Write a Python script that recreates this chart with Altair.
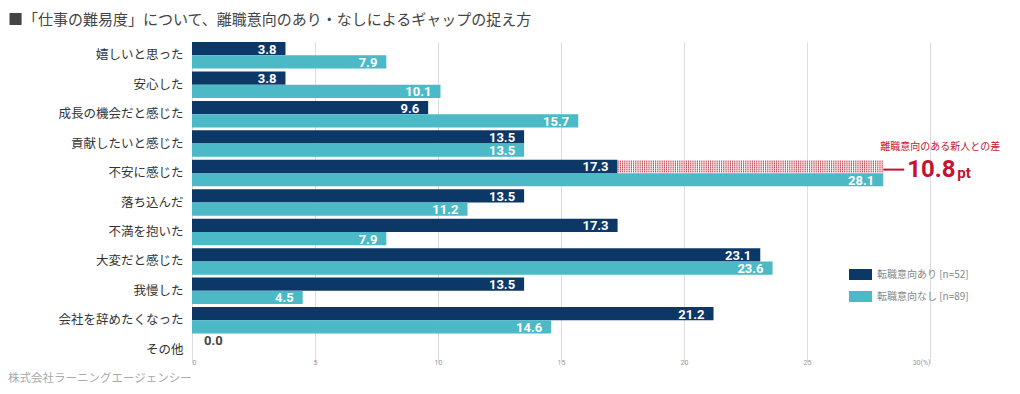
import altair as alt
import pandas as pd

categories = ["嬉しいと思った", "安心した", "成長の機会だと感じた", "貢献したいと感じた", "不安に感じた",
              "落ち込んだ", "不満を抱いた", "大変だと感じた", "我慢した", "会社を辞めたくなった", "その他"]
series = ["転職意向あり [n=52]", "転職意向なし [n=89]"]
values_ari = [3.8, 3.8, 9.6, 13.5, 17.3, 13.5, 17.3, 23.1, 13.5, 21.2, 0.0]
values_nashi = [7.9, 10.1, 15.7, 13.5, 28.1, 11.2, 7.9, 23.6, 4.5, 14.6, None]
x_ticks = [0, 5, 10, 15, 20, 25, 30]
colors = ["#0c3867", "#4bbac6"]
RED = "#c4122f"

title_text = "■「仕事の難易度」について、離職意向のあり・なしによるギャップの捉え方"
footer_text = "株式会社ラーニングエージェンシー"
gap_category = "不安に感じた"
gap_note = "離職意向のある新人との差"

rows = []
for c, a, n in zip(categories, values_ari, values_nashi):
    rows.append({"category": c, "series": series[0], "value": a})
    if n is not None:
        rows.append({"category": c, "series": series[1], "value": n})
df = pd.DataFrame(rows)
df["label"] = df["value"].map(lambda v: f"{v:.1f}")

gi = categories.index(gap_category)
g_start, g_end = values_ari[gi], values_nashi[gi]
gap_df = pd.DataFrame([{"category": gap_category, "series": series[0], "start": g_start, "end": g_end,
                        "diff": f"{g_end - g_start:.1f}"}])

y_enc = alt.Y("category:N", sort=categories,
              scale=alt.Scale(paddingInner=0.1, paddingOuter=0),
              axis=alt.Axis(title=None, domain=False, ticks=False, labelFont="Noto Sans CJK JP",
                            labelFontSize=12.5, labelColor="#333333", labelPadding=9))
yoff = alt.YOffset("series:N", sort=series, scale=alt.Scale(paddingInner=0, paddingOuter=0))
x_scale = alt.Scale(domain=[0, 30], nice=False)

base = alt.Chart(df)
bars = base.transform_filter("datum.value > 0").mark_bar().encode(
    x=alt.X("value:Q", scale=x_scale,
            axis=alt.Axis(title=None, values=x_ticks, domain=False, ticks=False, grid=True,
                          gridColor="#dddddd", labelFontSize=7, labelColor="#999999",
                          labelFont="Roboto", labelPadding=0, offset=-5,
                          labelExpr="datum.value == 30 ? '30(%)' : datum.label")),
    y=y_enc,
    yOffset=yoff,
    color=alt.Color("series:N", sort=series,
                    scale=alt.Scale(domain=series, range=colors),
                    legend=alt.Legend(title=None, orient="none", legendX=657, legendY=221,
                                      symbolType="M-1,-0.48H1V0.48H-1Z", symbolSize=529,
                                      symbolStrokeWidth=0, symbolOpacity=1,
                                      labelFont="Noto Sans CJK JP", labelFontSize=10,
                                      labelColor="#888888", labelOffset=5, rowPadding=4,
                                      padding=0)),
)
labels = base.transform_filter("datum.value > 0").mark_text(
    align="right", baseline="middle", dx=-9, dy=1, color="white", font="Roboto",
    fontWeight="bold", fontSize=13).encode(
    x=alt.X("value:Q"), y=alt.Y("category:N", sort=categories), yOffset=yoff, text="label:N")
zero_labels = base.transform_filter("datum.value == 0").mark_text(
    align="left", baseline="middle", dx=12, dy=-2, color="#444444", font="Roboto",
    fontWeight="bold", fontSize=13).encode(
    x=alt.X("value:Q"), y=alt.Y("category:N", sort=categories), yOffset=yoff, text="label:N")

gap = alt.Chart(gap_df)
gap_bg = gap.mark_bar(color="#ffffff").encode(
    x="start:Q", x2="end:Q", y=alt.Y("category:N", sort=categories), yOffset=yoff)
gap_stripes = gap.mark_rule(color=RED, strokeWidth=12.5, strokeDash=[1.2, 1]).encode(
    x="start:Q", x2="end:Q", y=alt.Y("category:N", sort=categories, bandPosition=0.25))
gap_lines = [
    gap.mark_rule(color="#ffffff", strokeWidth=0.8).encode(
        x="start:Q", x2="end:Q", y=alt.Y("category:N", sort=categories, bandPosition=p))
    for p in [0.04, 0.115, 0.19, 0.265, 0.34, 0.415, 0.49]
]
gap_connector = gap.transform_calculate(xe="datum.end + 0.85").mark_rule(
    color=RED, strokeWidth=2).encode(
    x="end:Q", x2="xe:Q", y=alt.Y("category:N", sort=categories, bandPosition=0.37))
gap_big = gap.mark_text(align="left", baseline="middle", dx=24, color=RED, font="Roboto",
                        fontWeight="bold", fontSize=24).encode(
    x="end:Q", y=alt.Y("category:N", sort=categories, bandPosition=0.37), text="diff:N")
gap_pt = gap.transform_calculate(u="'pt'").mark_text(
    align="left", baseline="middle", dx=74, dy=3, color=RED, font="Roboto",
    fontWeight="bold", fontSize=15).encode(
    x="end:Q", y=alt.Y("category:N", sort=categories, bandPosition=0.37), text="u:N")
gap_small = gap.transform_calculate(t=f"'{gap_note}'").mark_text(
    align="left", baseline="middle", dx=-3, dy=-23, color=RED, font="Noto Sans CJK JP",
    fontSize=10).encode(
    x="end:Q", y=alt.Y("category:N", sort=categories, bandPosition=0.37), text="t:N")

title = alt.Chart(pd.DataFrame({"t": [title_text]})).mark_text(
    align="left", baseline="middle", font="Noto Sans CJK JP", fontSize=15, color="#444444").encode(
    text="t:N", x=alt.value(-184), y=alt.value(-22))
footer = alt.Chart(pd.DataFrame({"t": [footer_text]})).mark_text(
    align="left", baseline="middle", font="Noto Sans CJK JP", fontSize=11.5, color="#aaaaaa").encode(
    text="t:N", x=alt.value(-184), y=alt.value(337))

chart = alt.layer(
    bars, gap_bg, gap_stripes, *gap_lines, labels, zero_labels,
    gap_connector, gap_big, gap_pt, gap_small, title, footer
).properties(
    width=738, height=321,
    padding={"left": 184, "top": 34, "right": 80, "bottom": 26},
    autosize=alt.AutoSizeParams(type="none"),
).configure_view(stroke=None)

chart.save("out.html", embed_options={"renderer": "svg", "actions": False})
